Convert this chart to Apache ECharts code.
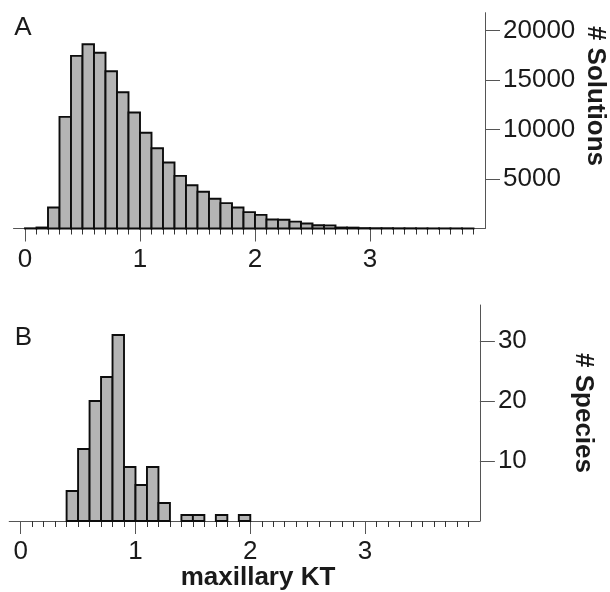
<!DOCTYPE html>
<html>
<head>
<meta charset="utf-8">
<script src="https://cdn.jsdelivr.net/npm/echarts@6/dist/echarts.min.js"></script>
<style>
html,body{margin:0;padding:0;background:#fff;}
#chart{width:610px;height:592px;}
</style>
</head>
<body>
<div id="chart"></div>
<script>
// ---- data ----
const binWidth = 0.1;
const binStartA = [0.0,0.1,0.2,0.3,0.4,0.5,0.6,0.7,0.8,0.9,1.0,1.1,1.2,1.3,1.4,1.5,1.6,1.7,1.8,1.9,2.0,2.1,2.2,2.3,2.4,2.5,2.6,2.7,2.8,2.9,3.0,3.1,3.2,3.3,3.4,3.5,3.6,3.7,3.8];
const countsA = [20,100,2120,11280,17440,18620,17750,15890,13770,11720,9670,8110,6670,5320,4370,3710,3000,2560,2120,1650,1380,910,880,690,500,330,320,100,90,40,30,30,20,20,15,10,10,10,5];
const binStartB = [0.4,0.5,0.6,0.7,0.8,0.9,1.0,1.1,1.2,1.3,1.4,1.5,1.6,1.7,1.8,1.9];
const countsB = [5,12,20,24,31,9,6,9,3,0,1,1,0,1,0,1];
const xTickLabels = [0,1,2,3];
const yTicksA = [5000,10000,15000,20000];
const yTicksB = [10,20,30];
const panelLabels = ['A','B'];
const yTitleA = '# Solutions';
const yTitleB = '# Species';
const xTitle = 'maxillary KT';

const minorTicks = [];
for (let i = 1; i <= 39; i++) { if (i % 10 !== 0) minorTicks.push(+(i / 10).toFixed(1)); }

function toRows(starts, counts) {
  const rows = [];
  starts.forEach((s, i) => { if (counts[i] > 0) rows.push([s, +(s + binWidth).toFixed(2), counts[i]]); });
  return rows;
}

const FONT = '"Liberation Sans", Arial, Helvetica, sans-serif';
const labelColor = '#1a1a1a';
const axisColor = '#555';

function renderBar(params, api) {
  const p0 = api.coord([api.value(0), 0]);
  const p1 = api.coord([api.value(1), api.value(2)]);
  return {
    type: 'rect',
    shape: { x: p0[0], y: p1[1], width: p1[0] - p0[0], height: p0[1] - p1[1] },
    style: { fill: '#b4b4b4', stroke: '#0d0d0d', lineWidth: 1.9 }
  };
}

function majorX(grid) {
  return {
    type: 'value', gridIndex: grid, min: -0.1, max: 4.0, position: 'bottom',
    axisLine: { show: true, onZero: false, lineStyle: { color: axisColor, width: 1 } },
    axisTick: { show: true, customValues: xTickLabels, length: 13, lineStyle: { color: axisColor, width: 1 } },
    axisLabel: { show: true, customValues: xTickLabels, margin: 18, fontSize: 26, fontFamily: FONT, color: labelColor, formatter: v => String(v) },
    splitLine: { show: false }
  };
}
function minorX(grid) {
  return {
    type: 'value', gridIndex: grid, min: -0.1, max: 4.0, position: 'bottom',
    axisLine: { show: false, onZero: false },
    axisTick: { show: true, customValues: minorTicks, length: 6, lineStyle: { color: '#333', width: 1 } },
    axisLabel: { show: false },
    splitLine: { show: false }
  };
}
function yAx(grid, max, ticks) {
  return {
    type: 'value', gridIndex: grid, min: 0, max: max, position: 'right',
    axisLine: { show: true, onZero: false, lineStyle: { color: axisColor, width: 1 } },
    axisTick: { show: true, customValues: ticks, length: 15, inside: false, lineStyle: { color: axisColor, width: 1 } },
    axisLabel: { show: true, customValues: ticks, margin: 18, fontSize: 26, fontFamily: FONT, color: labelColor, formatter: v => String(v) },
    splitLine: { show: false }
  };
}

const chart = echarts.init(document.getElementById('chart'), null, { renderer: 'canvas' });
chart.setOption({
  animation: false,
  backgroundColor: '#ffffff',
  grid: [
    { left: 13.5, top: 12.7, width: 471.5, height: 215.8, containLabel: false, outerBoundsMode: 'none' },
    { left: 9.2, top: 305, width: 470.7, height: 216, containLabel: false, outerBoundsMode: 'none' }
  ],
  xAxis: [majorX(0), minorX(0), majorX(1), minorX(1)],
  yAxis: [yAx(0, 21800, yTicksA), yAx(1, 36, yTicksB)],
  series: [
    { type: 'custom', xAxisIndex: 0, yAxisIndex: 0, renderItem: renderBar, encode: { x: [0, 1], y: 2 }, data: toRows(binStartA, countsA), clip: false },
    { type: 'custom', xAxisIndex: 2, yAxisIndex: 1, renderItem: renderBar, encode: { x: [0, 1], y: 2 }, data: toRows(binStartB, countsB), clip: false }
  ],
  graphic: [
    { type: 'text', x: 23, y: 27.5, style: { text: panelLabels[0], font: '26px ' + FONT, fill: labelColor, align: 'center', verticalAlign: 'middle', textAlign: 'center', textVerticalAlign: 'middle' } },
    { type: 'text', x: 23.5, y: 337.5, style: { text: panelLabels[1], font: '26px ' + FONT, fill: labelColor, align: 'center', verticalAlign: 'middle', textAlign: 'center', textVerticalAlign: 'middle' } },
    { type: 'text', x: 595, y: 96, rotation: -Math.PI / 2, style: { text: yTitleA, font: 'bold 26px ' + FONT, fill: labelColor, align: 'center', verticalAlign: 'middle', textAlign: 'center', textVerticalAlign: 'middle' } },
    { type: 'text', x: 583, y: 413, rotation: -Math.PI / 2, style: { text: yTitleB, font: 'bold 26px ' + FONT, fill: labelColor, align: 'center', verticalAlign: 'middle', textAlign: 'center', textVerticalAlign: 'middle' } },
    { type: 'text', x: 258, y: 578, style: { text: xTitle, font: 'bold 26px ' + FONT, fill: labelColor, align: 'center', verticalAlign: 'middle', textAlign: 'center', textVerticalAlign: 'middle' } }
  ]
});
</script>
</body>
</html>
